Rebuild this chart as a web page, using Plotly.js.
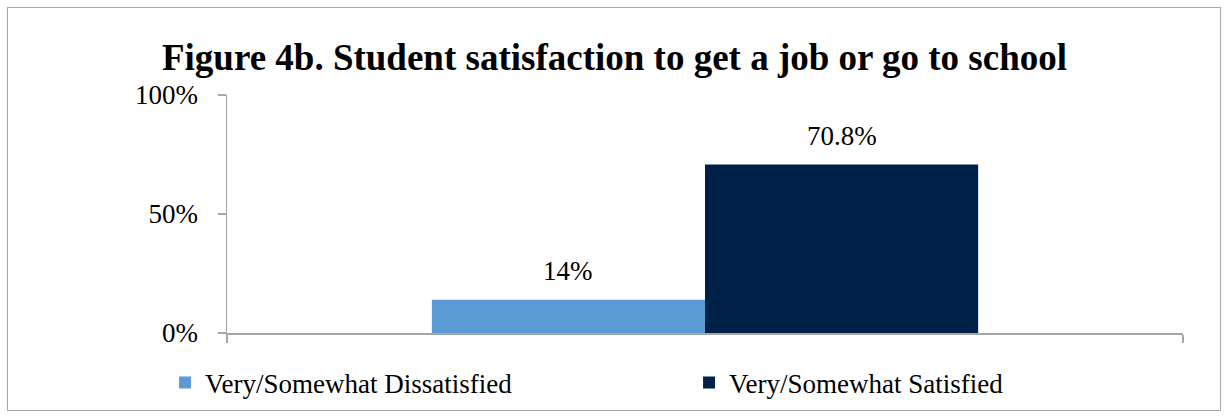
<!DOCTYPE html>
<html>
<head>
<meta charset="utf-8">
<script src="https://cdn.plot.ly/plotly-3.0.1.min.js"></script>
<style>
  html, body { margin: 0; padding: 0; background: #fff; }
  #wrap { position: relative; width: 1229px; height: 419px; }
  #frame { position: absolute; left: 7px; top: 7px; width: 1214px; height: 404px; border: 1.5px solid #a6a6a6; box-sizing: border-box; pointer-events: none; }
  #chart { position: absolute; left: 0; top: 0; width: 1229px; height: 419px; }
</style>
</head>
<body>
<div id="wrap">
  <div id="chart"></div>
  <div id="frame"></div>
</div>
<script>
// Data
const seriesNames = ["Very/Somewhat Dissatisfied", "Very/Somewhat Satisfied"];
const seriesValues = [14, 70.8];
const seriesLabels = ["14%", "70.8%"];
const seriesColors = ["#5B9BD5", "#002147"];
const yTickVals = [0, 50, 100];
const yTickText = ["0%", "50%", "100%"];
const titleText = "Figure 4b. Student satisfaction to get a job or go to school";

const serif = "'Liberation Serif', 'Times New Roman', serif";

const traces = seriesNames.map((name, i) => ({
  type: "bar",
  name: name,
  x: [i],
  y: [seriesValues[i]],
  width: 1,
  marker: { color: seriesColors[i] },
  hoverinfo: "skip"
}));

const annotations = seriesValues.map((v, i) => ({
  x: i, y: v, xref: "x", yref: "y",
  text: seriesLabels[i],
  showarrow: false,
  yanchor: "bottom",
  yshift: 12,
  font: { family: serif, size: 27, color: "#000" }
}));

const layout = {
  width: 1229, height: 419,
  margin: { l: 227, r: 46, t: 95, b: 86 },
  paper_bgcolor: "#fff", plot_bgcolor: "#fff",
  barmode: "overlay",
  showlegend: true,
  title: {
    text: "<b>" + titleText + "</b>",
    font: { family: serif, size: 37, color: "#000" },
    x: 0.5, xanchor: "center",
    y: 1 - 57 / 419, yref: "container", yanchor: "middle"
  },
  xaxis: {
    range: [-1.25, 2.25],
    tickmode: "array",
    tickvals: [-1.25, 2.25],
    ticktext: ["", ""],
    ticks: "outside", ticklen: 8, tickcolor: "#a6a6a6", tickwidth: 1.5,
    showline: true, linecolor: "#a6a6a6", linewidth: 1.5,
    showgrid: false, zeroline: false, fixedrange: true
  },
  yaxis: {
    range: [0, 100],
    tickmode: "array",
    tickvals: yTickVals,
    ticktext: yTickText,
    ticks: "outside", ticklen: 8, tickcolor: "#a6a6a6", tickwidth: 1.5,
    ticklabelstandoff: 14,
    showline: true, linecolor: "#a6a6a6", linewidth: 1.5,
    showgrid: false, zeroline: false, fixedrange: true,
    tickfont: { family: serif, size: 27, color: "#000" }
  },
  legend: {
    orientation: "h",
    x: -0.0648, xanchor: "left",
    y: -0.21, yanchor: "middle",
    entrywidth: 479, entrywidthmode: "pixels",
    font: { family: serif, size: 27, color: "#000" },
    itemclick: false, itemdoubleclick: false
  },
  annotations: annotations
};

Plotly.newPlot("chart", traces, layout, { displayModeBar: false, staticPlot: true });
</script>
</body>
</html>
